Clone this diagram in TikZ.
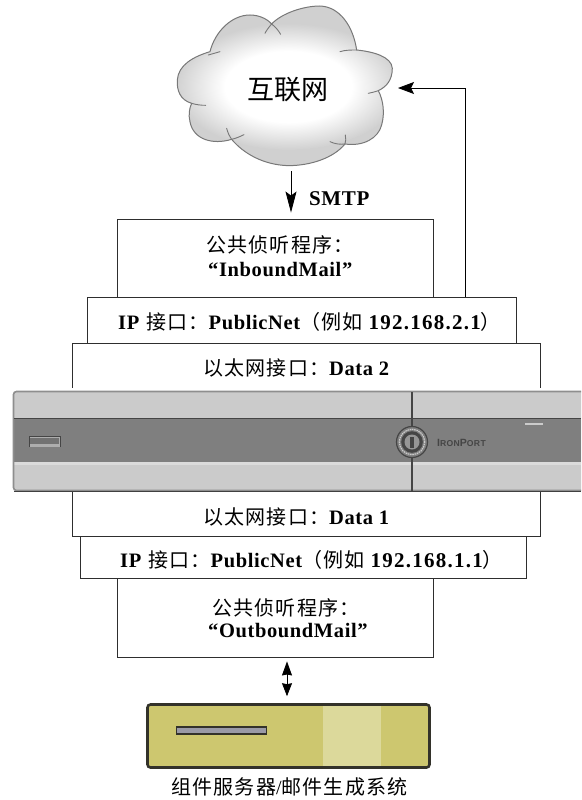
\documentclass[tikz,border=0pt]{standalone}
\usepackage{fontspec}
\setmainfont[LetterSpace=3]{Liberation Serif}
\setsansfont[LetterSpace=4]{Liberation Sans}
\newfontfamily\cjk[LetterSpace=6]{Noto Sans CJK SC}
\newfontfamily\cjkplain{Noto Sans CJK SC}
\usetikzlibrary{arrows.meta,calc}
\definecolor{devlight}{HTML}{CBCBCB}
\definecolor{devmid}{HTML}{7F7F7F}
\definecolor{devdark}{HTML}{454545}
\definecolor{devedge}{HTML}{8E8E8E}
\definecolor{cloudedge}{HTML}{787878}
\definecolor{cloudfill}{HTML}{D0D0D0}
\definecolor{srvfill}{HTML}{CDC76F}
\definecolor{srvlight}{HTML}{DCD99B}
\definecolor{srvedge}{HTML}{33322A}
\definecolor{slotfill}{HTML}{9A9AA6}
\definecolor{boxline}{HTML}{2E2E2E}
\pgfdeclareradialshading{cloudglow}{\pgfpointorigin}{color(0bp)=(white);color(14bp)=(white);color(25bp)=(cloudfill);color(50bp)=(cloudfill)}
\tikzset{
  layerbox/.style={draw=boxline,line width=0.9pt,fill=white,inner sep=0pt},
  link/.style={draw=black,line width=0.8pt},
  smtptip/.style={-{Stealth[length=21pt,width=11pt,inset=4pt]}},
  backtip/.style={-{Stealth[length=16pt,width=12pt,inset=3pt]}},
  dbltip/.style={{Stealth[length=14pt,width=10pt,inset=1pt]}-{Stealth[length=13pt,width=10pt,inset=1pt]}},
  plain/.style={inner sep=0pt,text=black},
  caption/.style={plain,anchor=west,font=\fontsize{20}{24}\selectfont}
}
\newcommand{\zh}[1]{{\cjk\mdseries #1}}
\newcommand{\lat}[1]{{\fontsize{20.5}{24}\selectfont\bfseries #1}}
\newcommand{\num}[1]{{\fontsize{21}{24}\selectfont\bfseries\addfontfeature{LetterSpace=6}#1}}
\begin{document}
\begin{tikzpicture}[x=1pt,y=-1pt]
\useasboundingbox (0,0) rectangle (581,800);

% cloud
\begin{scope}[x=0.3333pt,y=-0.3333pt,shift={(480,0)}]
\def\cloudpath{(150,155) .. controls (165,95) and (215,45) .. (270,45) .. controls (295,45) and (320,55) .. (335,72) .. controls (365,40) and (430,18) .. (480,18) .. controls (540,20) and (580,80) .. (590,150) .. controls (640,155) and (695,170) .. (697,205) .. controls (697,240) and (680,260) .. (655,272) .. controls (670,300) and (675,340) .. (665,375) .. controls (655,415) and (610,440) .. (555,432) .. controls (520,475) and (450,497) .. (385,497) .. controls (310,495) and (250,460) .. (215,418) .. controls (160,435) and (100,420) .. (90,365) .. controls (85,345) and (88,325) .. (95,310) .. controls (60,300) and (50,270) .. (52,240) .. controls (55,195) and (100,170) .. (150,155) -- cycle}
\begin{scope}
\clip \cloudpath;
\fill[cloudfill] (0,0) rectangle (760,520);
\shade[shading=cloudglow] (385,260) ellipse (340 and 190);
\end{scope}
\draw[cloudedge,line width=1pt,line join=round] \cloudpath;
\draw[cloudedge,line width=0.9pt,line cap=round]
  (145,165) -- (180,155)
  (315,100) .. controls (320,90) and (328,80) .. (335,72) .. controls (345,80) and (355,90) .. (362,103)
  (540,155) .. controls (555,150) and (575,150) .. (590,150)
  (625,280) .. controls (635,278) and (647,275) .. (655,272)
  (200,385) .. controls (203,397) and (208,408) .. (215,418) .. controls (228,415) and (240,410) .. (252,404)
  (95,310) .. controls (108,314) and (122,316) .. (137,316)
  (510,425) .. controls (525,432) and (540,434) .. (555,432) .. controls (558,425) and (558,415) .. (556,405);
\end{scope}
\node[plain,font=\fontsize{27}{27}\selectfont\cjkplain] (cloudlabel) at (288,90) {互联网};

% layer boxes
\node[layerbox,minimum width=316pt,minimum height=78pt] (boxa) at (275,258) {};
\node[layerbox,minimum width=468pt,minimum height=50pt] (boxc) at (306,368) {};
\node[layerbox,minimum width=429pt,minimum height=46pt] (boxb) at (301.5,320) {};
\node[layerbox,minimum width=468pt,minimum height=45pt] (boxd) at (306,513.5) {};
\node[layerbox,minimum width=446pt,minimum height=42pt] (boxe) at (303,557) {};
\node[layerbox,minimum width=316pt,minimum height=79pt] (boxf) at (275,617.5) {};

\node[caption] (texta1) at (206,245) {\zh{公共侦听程序：}};
\node[caption] (texta2) at (208,270) {\lat{“InboundMail”}};
\node[caption] (textb) at (118,322) {\lat{IP}\hspace{7pt}\zh{接口：}\lat{PublicNet}\zh{（例如}\hspace{6pt}\num{192.168.2.1}\zh{）}};
\node[caption] (textc) at (203,368) {\zh{以太网接口：}\lat{Data 2}};
\node[caption] (textd) at (203,517) {\zh{以太网接口：}\lat{Data 1}};
\node[caption] (texte) at (120,560) {\lat{IP}\hspace{7pt}\zh{接口：}\lat{PublicNet}\zh{（例如}\hspace{6pt}\num{192.168.1.1}\zh{）}};
\node[caption] (textf1) at (212,608) {\zh{公共侦听程序：}};
\node[caption] (textf2) at (208,631) {\lat{“OutboundMail”}};

% appliance
\fill[white] (60,387.5) rectangle (581,391);
\path[fill=devlight] (581,391) -- (16,391) [rounded corners=3pt] -- (13,391) -- (13,491) [sharp corners] -- (581,491) -- cycle;
\fill[devmid] (13,419) rectangle (581,462);
\fill[devlight!70!white] (14,462) rectangle (581,464.5);
\draw[devedge,line width=1.6pt,rounded corners=3pt] (581,391.5) -- (13.5,391.5) -- (13.5,490.5) -- (581,490.5);
\draw[black!75,line width=0.9pt] (14,491) -- (581,491);
\draw[devdark,line width=1.4pt] (14,418.5) -- (581,418.5);
\draw[devdark,line width=1.5pt] (412,392) -- (412,491);
\fill[devlight!60!devmid] (29,436) rectangle (60,447);
\draw[devdark,line width=1pt] (29,447) -- (29,436.5) -- (60,436.5) -- (60,447);
\fill[devmid!90!black] (30,437.5) rectangle (59,444);
\fill[devlight] (525,422.5) rectangle (543,425);
\node[circle,draw=devdark,line width=1.2pt,fill=devmid,minimum size=31pt,inner sep=0pt] (logo) at (412,442) {};
\draw[devlight,line width=1.2pt,dash pattern=on 1.5pt off 0.8pt] (logo.center) circle (12.7pt);
\fill[devdark] (logo.center) circle (10.8pt);
\fill[devmid!70!devlight] (logo.center) circle (7.5pt);
\fill[devdark] ($(logo.center)+(-1.6,-5.5)$) rectangle ($(logo.center)+(1.6,5.5)$);
\node[plain,text=devdark,font=\sffamily\bfseries\fontsize{8.6}{9}\selectfont,anchor=west] (brand) at (437,442.5) {{\fontsize{10.5}{9}\selectfont I}RON{\fontsize{10.5}{9}\selectfont P}ORT};

% server
\node[draw=srvedge,line width=2.6pt,rounded corners=3pt,fill=srvfill,minimum width=282pt,minimum height=63pt,inner sep=0pt] (server) at (288.5,736) {};
\fill[srvlight] (323,706) rectangle (381,766);
\node[draw=srvedge,line width=1.6pt,fill=slotfill,minimum width=90pt,minimum height=6.5pt,inner sep=0pt] (slot) at (221.5,730.5) {};
\node[plain,anchor=west,font=\fontsize{20}{22}\selectfont] (serverlabel) at (171,787) {\zh{组件服务器}/\zh{邮件生成系统}};

% connectors
\node[plain,font=\bfseries\fontsize{21}{24}\selectfont,anchor=west] (smtp) at (309,198.5) {SMTP};
\coordinate (smtpstart) at (291,171);
\coordinate (riser) at (465,296.5);
\coordinate (cloudport) at (398,88);
\coordinate (dblx) at (287,680);
\draw[link,smtptip,shorten >=6pt] (smtpstart) -- (smtpstart |- boxa.north);
\draw[link,backtip] (riser) |- (cloudport);
\draw[link,dbltip,shorten <=4pt,shorten >=7pt] (dblx |- boxf.south) -- (dblx |- server.north);
\end{tikzpicture}
\end{document}
